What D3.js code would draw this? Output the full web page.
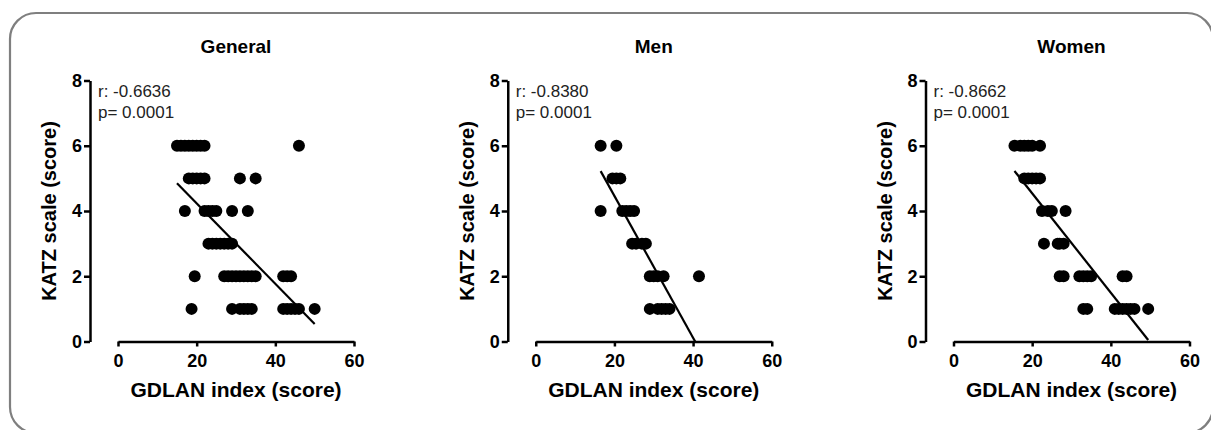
<!DOCTYPE html>
<html>
<head>
<meta charset="utf-8">
<script src="https://cdn.jsdelivr.net/npm/d3@7"></script>
<style>
  body { margin: 0; background: #fff; }
  .chart { width: 1211px; height: 430px; }
</style>
</head>
<body>
<div class="chart"></div>
<script>
const panels = ["General", "Men", "Women"];
const rValues = ["-0.6636", "-0.8380", "-0.8662"];
const pValues = ["0.0001", "0.0001", "0.0001"];
const xTicks = [0, 20, 40, 60];
const yTicks = [0, 2, 4, 6, 8];

// GDLAN index (x) and KATZ scale (y)
const generalGdlan = [15, 16, 17, 18, 19, 20, 21, 22, 46,
  18, 19, 20, 21, 22, 31, 35,
  17, 22, 23, 24, 25, 29, 33,
  23, 24, 25, 26, 27, 28, 29,
  19.5, 27, 28, 29, 30, 31, 32, 33, 34, 35, 42, 43, 44,
  18.7, 29, 31, 32, 33, 34, 42, 43, 44, 45, 46, 50];
const generalKatz = [6, 6, 6, 6, 6, 6, 6, 6, 6,
  5, 5, 5, 5, 5, 5, 5,
  4, 4, 4, 4, 4, 4, 4,
  3, 3, 3, 3, 3, 3, 3,
  2, 2, 2, 2, 2, 2, 2, 2, 2, 2, 2, 2, 2,
  1, 1, 1, 1, 1, 1, 1, 1, 1, 1, 1, 1];

const menGdlan = [16.5, 20.5,
  19.5, 20.5, 21.5,
  16.5, 22, 23, 24, 25,
  24.5, 25.5, 27, 28,
  29, 30, 31, 32.5, 41.5,
  29, 31, 32, 33, 34];
const menKatz = [6, 6,
  5, 5, 5,
  4, 4, 4, 4, 4,
  3, 3, 3, 3,
  2, 2, 2, 2, 2,
  1, 1, 1, 1, 1];

const womenGdlan = [15.5, 17, 18, 19, 20, 22,
  18, 19, 20, 21, 22,
  22.5, 24, 25, 28.5,
  23, 26.5, 27, 28,
  27, 28, 32, 33, 34, 35, 43, 44,
  33, 34, 41, 42, 43, 44, 45, 46, 49.5];
const womenKatz = [6, 6, 6, 6, 6, 6,
  5, 5, 5, 5, 5,
  4, 4, 4, 4,
  3, 3, 3, 3,
  2, 2, 2, 2, 2, 2, 2, 2,
  1, 1, 1, 1, 1, 1, 1, 1, 1];

// linear fit: [intercept, slope]
const fitLines = [[6.70, -0.1233], [8.81, -0.2174], [7.59, -0.1524]];

const seriesX = [generalGdlan, menGdlan, womenGdlan];
const seriesY = [generalKatz, menKatz, womenKatz];

const W = 1211, H = 430;
const font = "'Liberation Sans', Arial, sans-serif";

const svg = d3.select(".chart")
  .append("svg")
  .attr("width", W)
  .attr("height", H)
  .style("font-family", font);

// rounded frame
svg.append("rect")
  .attr("x", 10)
  .attr("y", 13)
  .attr("width", 1203)
  .attr("height", 420)
  .attr("rx", 26)
  .attr("ry", 26)
  .attr("fill", "none")
  .attr("stroke", "#7f7f7f")
  .attr("stroke-width", 2.2);

const y = d3.scaleLinear().domain([0, 8]).range([341.5, 80.5]);

panels.forEach((name, i) => {
  const x0 = 118 + i * 417.75;
  const axisX = x0 - 28;
  const x = d3.scaleLinear().domain([0, 60]).range([x0, x0 + 236]);
  const g = svg.append("g");

  // title
  g.append("text")
    .attr("x", (x.range()[0] + x.range()[1]) / 2)
    .attr("y", 53)
    .attr("text-anchor", "middle")
    .style("font-size", "19px")
    .style("font-weight", "bold")
    .text(name);

  // Y axis
  const yAxis = g.append("g")
    .attr("transform", `translate(${axisX},0)`)
    .call(d3.axisLeft(y).tickValues(yTicks).tickSize(6).tickSizeOuter(0).tickPadding(2));

  // X axis
  const xAxis = g.append("g")
    .attr("transform", `translate(0,${y(0)})`)
    .call(d3.axisBottom(x).tickValues(xTicks).tickSize(5).tickSizeOuter(0).tickPadding(8));

  [yAxis, xAxis].forEach(a => {
    a.selectAll("path, line").attr("stroke", "#000").attr("stroke-width", 2.5);
    a.selectAll("text")
      .attr("fill", "#000")
      .style("font-family", font)
      .style("font-size", "18px")
      .style("font-weight", "bold");
  });

  // axis titles
  g.append("text")
    .attr("x", (x.range()[0] + x.range()[1]) / 2)
    .attr("y", 397)
    .attr("text-anchor", "middle")
    .style("font-size", "21px")
    .style("font-weight", "bold")
    .text("GDLAN index (score)");

  g.append("text")
    .attr("transform", `translate(${axisX - 34},${(y(0) + y(8)) / 2}) rotate(-90)`)
    .attr("text-anchor", "middle")
    .style("font-size", "20px")
    .style("font-weight", "bold")
    .text("KATZ scale (score)");

  // stats
  g.append("text")
    .attr("x", axisX + 8)
    .attr("y", 97)
    .attr("fill", "#222")
    .style("font-size", "17px")
    .text("r: " + rValues[i]);
  g.append("text")
    .attr("x", axisX + 8)
    .attr("y", 118)
    .attr("fill", "#222")
    .style("font-size", "17px")
    .text("p= " + pValues[i]);

  // points
  const pts = seriesX[i].map((v, j) => ({gdlan: v, katz: seriesY[i][j]}));
  g.selectAll("circle")
    .data(pts)
    .enter()
    .append("circle")
    .attr("cx", d => x(d.gdlan))
    .attr("cy", d => y(d.katz))
    .attr("r", 6)
    .attr("fill", "#000");

  // fit line over data range, clipped at y = 0
  const [b0, b1] = fitLines[i];
  const xs = d3.extent(seriesX[i]);
  const xEnd = Math.min(xs[1], -b0 / b1);
  g.append("line")
    .attr("x1", x(xs[0]))
    .attr("y1", y(b0 + b1 * xs[0]))
    .attr("x2", x(xEnd))
    .attr("y2", y(b0 + b1 * xEnd))
    .attr("stroke", "#000")
    .attr("stroke-width", 2.2);
});
</script>
</body>
</html>
